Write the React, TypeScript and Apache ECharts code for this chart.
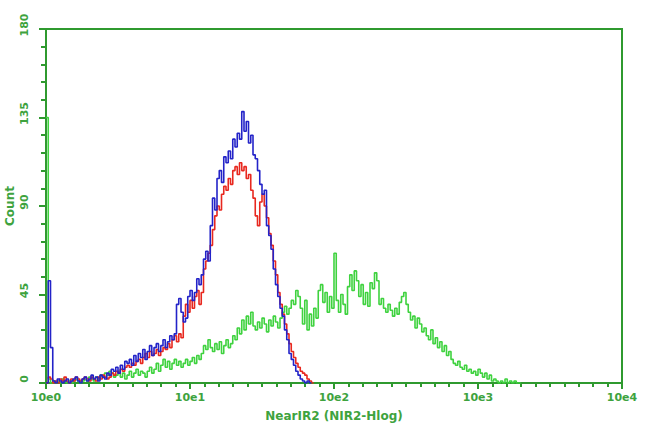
import React, { useEffect, useRef } from "react";
import * as echarts from "echarts";

// Histogram channels: 64 channels per decade on a 4-decade log scale
const CHANNELS_PER_DECADE = 64;
const xTickLabels = ["10e0", "10e1", "10e2", "10e3", "10e4"];
const yTicks = [0, 45, 90, 135, 180];

const redCounts = [
  0, 3, 2,
  0, 1, 0, 2, 1, 3, 1, 0,
  2, 1, 3, 2, 1, 2, 3, 2, 1, 3,
  2, 1, 3, 2, 4, 3, 2,
  3, 5, 4, 6, 5,
  7, 6, 8, 9,
  8, 10, 9, 11,
  12, 10, 13, 15,
  13, 16, 14, 15,
  17, 14, 16, 18,
  17, 20, 18, 22,
  24, 21, 25, 23,
  34, 40, 36, 42,
  38, 44, 47, 40,
  46, 58, 62, 66,
  70, 78, 85, 90,
  88, 96, 100, 98,
  104, 101, 108, 110,
  106, 112, 108, 110,
  104, 106, 98, 94,
  85, 80, 92, 96,
  90, 84, 76, 70,
  62, 55, 46, 40,
  35, 30, 25, 20,
  16, 13, 10, 8,
  6, 5, 4, 2, 1, 0,
];

const blueCounts = [
  0, 52, 18,
  1, 0, 2, 1, 0, 1, 2, 0,
  1, 2, 3, 1, 0, 2, 3, 1, 2, 4,
  2, 3, 1, 4, 3, 2, 5,
  4, 7, 6, 8, 5,
  9, 7, 11, 10,
  12, 9, 14, 11,
  15, 13, 17, 12,
  16, 19, 14, 18,
  20, 16, 19, 22,
  18, 21, 24, 22,
  25, 40, 43, 36,
  31, 33, 44, 47,
  42, 46, 53, 50,
  55, 63, 67, 62,
  80, 94, 88, 104,
  108, 102, 115, 112,
  118, 114, 124, 120,
  127, 124, 138, 128,
  133, 122, 126, 116,
  114, 108, 101, 96,
  98, 80, 75, 68,
  58, 50, 44, 38,
  34, 27, 22, 15,
  12, 9, 6, 4,
  2, 1, 0, 1, 0,
];

const greenCounts = [
  135,
  2, 0, 1, 0, 1, 0, 2, 1, 0, 1,
  0, 1, 2, 1, 0, 1, 2, 1, 3, 2,
  1, 3, 2, 4, 3, 5, 4,
  6, 5, 3, 4, 6,
  3, 5, 2, 4,
  6, 3, 5, 7,
  4, 6, 5, 3,
  6, 8, 5, 7,
  10, 6, 9, 12,
  8, 11, 7, 10,
  12, 9, 11, 8,
  10, 12, 9, 11,
  13, 10, 14, 12,
  15, 19, 17, 22,
  18, 16, 20, 17,
  21, 15, 19, 22,
  18, 20, 24, 22,
  28, 25, 32, 27,
  34, 30, 36, 29,
  27, 31, 28, 33,
  30, 26, 32, 29,
  34, 31, 28, 33,
  36, 39, 35, 38,
  42, 40, 47, 44,
  38, 30, 42, 27,
  35, 29, 38, 33,
  47, 50, 41, 46,
  36, 44, 38,
  66, 42,
  36, 45, 40, 35,
  49, 55, 47, 57,
  52, 44, 50, 40,
  46, 39, 51, 48,
  56, 52, 40, 43,
  38, 36, 40, 37,
  34, 38, 35, 41,
  44, 46, 40, 36,
  32, 34, 28, 33,
  30, 26, 28, 24,
  22, 27, 20, 23,
  18, 21, 16, 19,
  14, 16, 12, 10,
  9, 11, 8, 7,
  9, 6, 7, 5,
  6, 4, 7, 5,
  3, 5, 2, 4,
  1, 2, 1, 0,
  1, 0, 2, 0,
  1, 0, 1, 0, 0,
];

const AXIS_GREEN = "#2f9a2f";
const LABEL_GREEN = "#3ea33e";

function toSeriesData(counts: number[]) {
  const pts = counts.map((v, i) => [i / CHANNELS_PER_DECADE, v]);
  pts.push([counts.length / CHANNELS_PER_DECADE, 0]);
  return pts;
}

export default function App() {
  const ref = useRef<HTMLDivElement>(null);
  useEffect(() => {
    document.body.style.margin = "0";
    if (!ref.current) return;
    const chart = echarts.init(ref.current, null, { renderer: "svg" });
    const font = "DejaVu Sans";
    chart.setOption({
      animation: false,
      backgroundColor: "#ffffff",
      grid: {
        left: 46,
        right: 28,
        top: 29,
        bottom: 47,
        containLabel: false,
        outerBoundsMode: "none",
        show: true,
        borderColor: AXIS_GREEN,
        borderWidth: 2,
      },
      xAxis: {
        type: "value",
        min: 0,
        max: 4,
        interval: 1,
        name: "NearIR2 (NIR2-Hlog)",
        nameLocation: "middle",
        nameGap: 27,
        nameTextStyle: { color: LABEL_GREEN, fontFamily: font, fontWeight: "bold", fontSize: 12 },
        axisLine: { show: true, lineStyle: { color: AXIS_GREEN, width: 2 } },
        axisTick: { show: true, inside: false, length: 6, lineStyle: { color: AXIS_GREEN, width: 2 } },
        minorTick: { show: true, splitNumber: 10, length: 4, lineStyle: { color: AXIS_GREEN, width: 2 } },
        splitLine: { show: false },
        axisLabel: {
          color: LABEL_GREEN,
          fontFamily: font,
          fontWeight: "bold",
          fontSize: 11,
          margin: 9,
          formatter: (v: number) => xTickLabels[Math.round(v)] ?? "",
        },
      },
      yAxis: {
        type: "value",
        min: yTicks[0],
        max: yTicks[yTicks.length - 1],
        interval: 45,
        name: "Count",
        nameLocation: "middle",
        nameGap: 30,
        nameRotate: 90,
        nameMoveOverlap: false,
        nameTextStyle: { color: LABEL_GREEN, fontFamily: font, fontWeight: "bold", fontSize: 12 },
        axisLine: { show: true, lineStyle: { color: AXIS_GREEN, width: 2 } },
        axisTick: { show: true, inside: false, length: 7, lineStyle: { color: AXIS_GREEN, width: 2 } },
        minorTick: { show: true, splitNumber: 5, length: 5, lineStyle: { color: AXIS_GREEN, width: 2 } },
        splitLine: { show: false },
        axisLabel: {
          color: LABEL_GREEN,
          fontFamily: font,
          fontWeight: "bold",
          fontSize: 11,
          rotate: 90,
          margin: 16,
          padding: [0, 0, 0, 8],
        },
      },
      series: [
        {
          type: "line",
          name: "green",
          step: "end",
          showSymbol: false,
          data: toSeriesData(greenCounts),
          lineStyle: { color: "#3fd23f", width: 1.6 },
          z: 2,
        },
        {
          type: "line",
          name: "red",
          step: "end",
          showSymbol: false,
          data: toSeriesData(redCounts),
          lineStyle: { color: "#e8281f", width: 1.6 },
          z: 3,
        },
        {
          type: "line",
          name: "blue",
          step: "end",
          showSymbol: false,
          data: toSeriesData(blueCounts),
          lineStyle: { color: "#2323c8", width: 1.6 },
          z: 4,
        },
      ],
    });
    return () => chart.dispose();
  }, []);
  return <div ref={ref} style={{ width: 650, height: 430 }} />;
}
